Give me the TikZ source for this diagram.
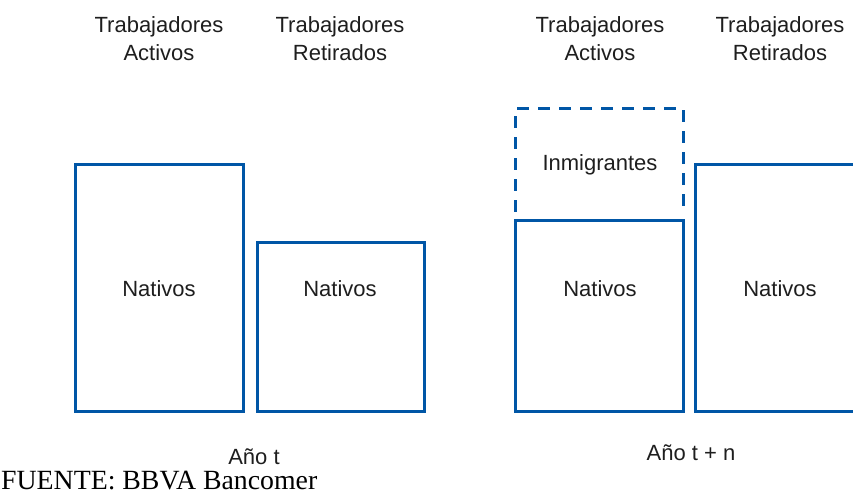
\documentclass[tikz,border=0pt]{standalone}
\usepackage{fontspec}
\setmainfont{Liberation Serif}
\newfontfamily\labfont{Liberation Sans}
\definecolor{bblue}{RGB}{0,86,166}
\definecolor{txtgray}{RGB}{30,30,30}
\begin{document}
\begin{tikzpicture}[x=1pt,y=-1pt,
  boxline/.style={draw=bblue,line width=3pt},
  dashline/.style={draw=bblue,line width=3pt,dash pattern=on 12pt off 9pt},
  lab/.style={inner sep=0pt,text=txtgray,font=\labfont\fontsize{22}{28}\selectfont,align=center},
  src/.style={inner sep=0pt,font=\fontsize{27.8}{30}\selectfont,anchor=base west}]
\useasboundingbox (0,0) rectangle (853,494);
\clip (0,0) rectangle (853,494);
% boxes
\draw[boxline] (75,165) rectangle (243.5,411);
\draw[boxline] (257,242.5) rectangle (424,411);
\draw[dashline] (515,212) -- (515,109) -- (683.5,109) -- (683.5,212);
\draw[boxline] (515,221) rectangle (683.5,411);
\draw[boxline] (695.5,165) rectangle (870,411);
% headers
\node[lab] (h1) at (159,39) {Trabajadores\\Activos};
\node[lab] (h2) at (340,39) {Trabajadores\\Retirados};
\node[lab] (h3) at (600,39) {Trabajadores\\Activos};
\node[lab] (h4) at (780,39) {Trabajadores\\Retirados};
% contents
\node[lab,anchor=base] (n1) at (159,296.5) {Nativos};
\node[lab,anchor=base] (n2) at (340,296.5) {Nativos};
\node[lab,anchor=base] (n3) at (600,296.5) {Nativos};
\node[lab,anchor=base] (n4) at (780,296.5) {Nativos};
\node[lab,anchor=base] (im) at (600,171) {Inmigrantes};
% years
\node[lab,anchor=base] (y1) at (254,464) {Año t};
\node[lab,anchor=base] (y2) at (691,460) {Año t + n};
% source
\node[src] (fuente) at (1,489) {FUENTE: BBVA Bancomer};
\end{tikzpicture}
\end{document}
